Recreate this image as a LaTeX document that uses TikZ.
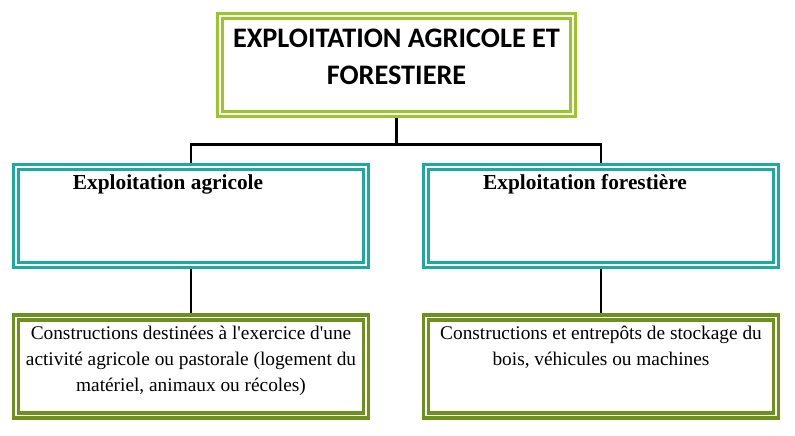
\documentclass[tikz,border=0pt]{standalone}
\usepackage{fontspec}
\setmainfont{Liberation Serif}
\newfontfamily\titrefont{Carlito}
\usepackage{tikz}
\usetikzlibrary{
	calc,
	positioning
}
\definecolor{LimeGreen}{RGB}{155,196,45}
\definecolor{TealBlue}{RGB}{28,170,160}
\definecolor{OliveGreen}{RGB}{110,145,30}

\begin{document}
\begin{tikzpicture}[x=0.75pt, y=-0.75pt,
	cadre/.style={draw=#1, double, line width=2.6pt, double distance=1.1pt, fill=white,
		minimum width=262.5pt, minimum height=73.5pt, inner sep=0pt, outer sep=3.15pt},
	lien/.style={line width=2.2pt, black},
	titre/.style={font=\titrefont\bfseries\fontsize{21.2}{27.75}\selectfont, align=center, inner sep=0pt},
	entete/.style={font=\bfseries\fontsize{16}{18}\selectfont, inner sep=0pt, anchor=base},
	texte/.style={font=\fontsize{14.5}{19.5}\selectfont, align=center, inner sep=0pt, anchor=north}]
	\useasboundingbox (0,0) rectangle (795,435);
	
	% cadres
	\node[cadre=LimeGreen, minimum width=264.75pt] (sommet) at (396.5,65) {};
	\node[cadre=TealBlue] (agricole) at (191,216) {};
	\node[cadre=TealBlue] (forestiere) at (601,216) {};
	\node[cadre=OliveGreen] (bas-agricole) at (191,366.5) {};
	\node[cadre=OliveGreen] (bas-forestiere) at (601,366.5) {};
	
	% textes
	\node[titre] (titre-sommet) at (396.5,57) {EXPLOITATION AGRICOLE ET\\FORESTIERE};
	\node[entete] (titre-agricole) at (168,189) {Exploitation agricole};
	\node[entete] (titre-forestiere) at (585,189) {Exploitation forestière};
	\node[texte] (texte-agricole) at (191,326) {Constructions destinées à l\textquotesingle exercice d\textquotesingle une\\activité agricole ou pastorale (logement du\\matériel, animaux ou récoles)};
	\node[texte] (texte-forestiere) at (601,326) {Constructions et entrepôts de stockage du\\bois, véhicules ou machines};
	
	% liaisons
	\coordinate (noeud) at ($(sommet.south)+(0,26)$);
	\draw[lien] (sommet.south) -- (noeud);
	\draw[lien] (agricole.north) |- (noeud) -| (forestiere.north);
	\draw[lien] (agricole.south) -- (bas-agricole.north);
	\draw[lien] (forestiere.south) -- (bas-forestiere.north);
\end{tikzpicture}
\end{document}
